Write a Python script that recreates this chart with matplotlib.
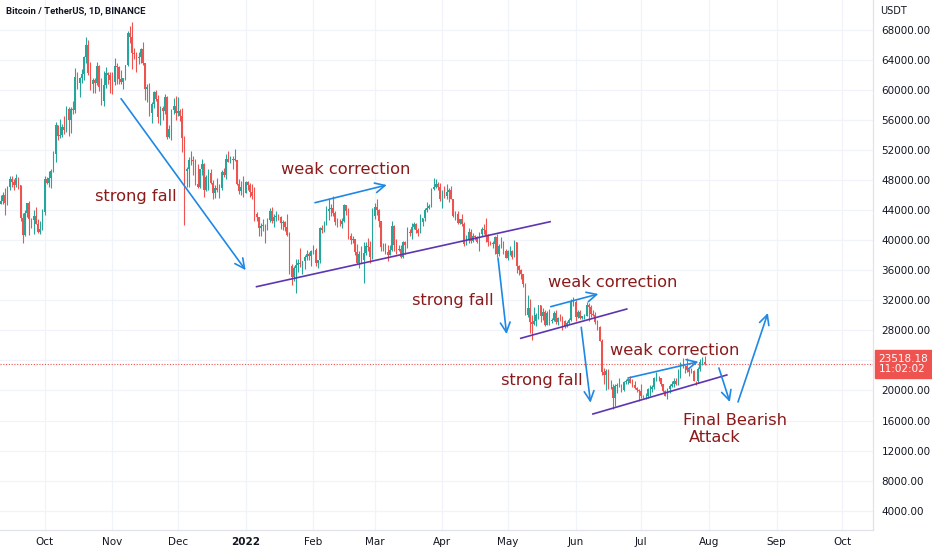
import numpy as np
import pandas as pd
import matplotlib
matplotlib.use('Agg')
import matplotlib.pyplot as plt
import matplotlib.dates as mdates

# BTC/USDT daily candles, 2021-09-10 .. 2022-07-30, values in k USDT
first_open = 46.40
closes = [
    # Sep
    44.85, 45.17, 46.03, 44.96, 47.11, 48.12, 47.74, 47.30, 48.31, 47.26, 42.99,
    40.69, 43.57, 44.90, 42.81, 42.69, 43.21, 42.17, 41.03, 41.52, 43.79,
    # Oct
    48.14, 47.63, 48.20, 49.22, 51.47, 55.32, 53.79, 53.95, 54.97, 54.66, 57.47,
    56.01, 57.37, 57.35, 61.67, 60.88, 61.53, 62.04, 64.28, 66.00, 62.19, 60.69,
    61.29, 60.86, 63.08, 60.33, 58.46, 60.59, 62.25, 61.89, 61.30,
    # Nov
    61.00, 63.20, 62.97, 61.45, 61.00, 61.53, 63.27, 67.53, 66.94, 64.88, 64.78,
    64.15, 64.38, 65.47, 63.56, 60.10, 60.36, 56.90, 58.10, 59.70, 58.70, 56.30,
    57.57, 57.15, 58.96, 53.73, 54.72, 57.27, 57.80, 56.95,
    # Dec
    57.20, 56.50, 53.60, 49.20, 49.40, 50.60, 50.60, 50.50, 47.50, 47.10, 49.40,
    50.10, 46.70, 48.40, 48.90, 47.60, 46.20, 46.90, 46.70, 46.90, 49.00, 48.60,
    50.80, 50.40, 50.80, 50.70, 50.70, 47.50, 46.50, 47.10, 46.20,
    # Jan
    47.70, 47.30, 46.40, 45.80, 43.40, 43.10, 41.60, 41.90, 42.00, 41.80, 42.70,
    43.90, 42.60, 43.10, 43.20, 43.10, 42.30, 42.40, 41.70, 40.70, 36.50, 35.10,
    36.30, 36.70, 36.90, 36.80, 37.20, 37.70, 38.20, 37.90, 38.50,
    # Feb
    38.70, 36.90, 37.30, 41.60, 41.40, 42.40, 43.80, 44.10, 44.30, 43.60, 42.40,
    42.20, 42.10, 42.60, 44.60, 43.90, 40.50, 40.00, 40.10, 38.40, 37.00, 38.20,
    37.30, 38.30, 39.20, 39.10, 37.70, 43.20,
    # Mar
    44.40, 44.00, 42.50, 39.10, 39.40, 38.40, 38.00, 38.70, 41.90, 39.40, 38.70,
    38.80, 37.80, 39.70, 39.30, 41.10, 40.90, 41.80, 42.20, 41.30, 41.00, 42.40,
    42.90, 44.00, 44.30, 44.50, 46.80, 47.10, 47.40, 47.10, 45.50,
    # Apr
    46.30, 45.80, 46.40, 46.60, 45.50, 43.20, 43.40, 42.30, 42.80, 42.20, 39.50,
    40.10, 41.10, 39.90, 40.60, 40.40, 39.70, 40.80, 41.50, 41.40, 40.50, 39.70,
    39.50, 39.50, 40.40, 38.10, 39.20, 39.70, 38.60, 37.60,
    # May
    38.50, 38.50, 37.70, 39.70, 36.60, 36.00, 35.50, 34.10, 30.10, 31.00, 29.10,
    28.90, 29.30, 30.10, 31.30, 29.90, 30.40, 28.70, 30.30, 29.20, 29.40, 30.30,
    29.10, 29.70, 29.50, 29.20, 28.60, 29.00, 29.40, 31.70, 31.80,
    # Jun
    29.80, 30.40, 29.70, 29.90, 29.90, 31.40, 31.10, 30.20, 30.10, 29.10, 28.40,
    26.60, 22.50, 22.10, 22.60, 20.40, 20.50, 19.00, 20.60, 20.60, 20.70, 20.00,
    21.10, 21.20, 21.50, 21.00, 20.70, 20.30, 20.10, 19.90,
    # Jul
    19.30, 19.20, 19.30, 20.20, 20.20, 20.50, 21.60, 21.60, 21.60, 20.80, 19.90,
    19.30, 20.20, 20.60, 20.80, 21.20, 20.80, 22.40, 23.40, 23.20, 23.20, 22.70,
    22.50, 22.60, 21.30, 21.20, 22.90, 23.80, 23.80, 23.52,
]
highs = [
    # Sep
    47.00, 45.97, 46.44, 46.88, 47.25, 48.47, 48.50, 48.16, 48.84, 48.37, 47.35,
    43.64, 44.00, 44.97, 45.20, 42.97, 43.94, 44.35, 42.79, 42.60, 44.13,
    # Oct
    48.50, 48.36, 49.23, 49.50, 51.90, 55.75, 55.30, 56.10, 55.48, 56.50, 57.80,
    57.70, 57.68, 58.53, 62.93, 62.30, 61.72, 62.70, 64.49, 67.00, 66.64, 63.70,
    61.49, 61.49, 63.70, 63.29, 61.50, 62.50, 62.96, 62.40, 62.40,
    # Nov
    62.40, 64.27, 63.50, 63.10, 62.60, 61.58, 63.29, 67.79, 68.50, 69.00, 65.60,
    65.00, 65.00, 65.50, 66.40, 63.50, 60.80, 60.90, 58.35, 59.86, 60.00, 59.27,
    57.87, 57.80, 59.40, 59.18, 55.30, 57.40, 58.90, 59.20,
    # Dec
    59.00, 57.40, 57.60, 53.90, 49.70, 51.00, 51.90, 51.20, 50.80, 50.10, 49.50,
    50.80, 50.20, 48.70, 49.50, 49.40, 48.00, 47.30, 48.30, 47.50, 49.30, 49.60,
    51.40, 51.80, 51.20, 51.20, 52.10, 50.70, 48.10, 47.90, 48.50,
    # Jan
    47.90, 47.90, 47.60, 47.50, 47.10, 43.70, 43.10, 42.30, 42.80, 42.20, 43.00,
    44.30, 44.40, 43.40, 43.80, 43.50, 43.20, 42.70, 42.60, 43.50, 41.10, 36.80,
    36.50, 37.50, 37.50, 38.90, 37.20, 38.00, 38.70, 38.40, 38.70,
    # Feb
    39.30, 38.90, 37.40, 41.70, 42.00, 42.60, 44.50, 45.50, 44.80, 45.80, 43.90,
    43.00, 42.80, 42.90, 44.80, 44.60, 44.20, 40.90, 40.50, 40.20, 39.50, 38.50,
    39.20, 39.80, 39.70, 40.30, 39.90, 44.20,
    # Mar
    44.90, 45.40, 44.10, 42.50, 39.60, 39.60, 39.40, 39.40, 42.60, 42.00, 40.10,
    39.40, 39.30, 39.90, 39.90, 41.70, 41.50, 42.30, 42.40, 42.30, 41.60, 43.40,
    43.00, 44.30, 45.10, 44.80, 46.90, 48.20, 48.10, 47.70, 47.60,
    # Apr
    46.70, 47.20, 47.40, 46.90, 47.20, 45.50, 43.90, 43.90, 42.80, 43.40, 42.40,
    40.70, 41.60, 41.50, 40.90, 40.70, 40.60, 41.10, 41.80, 42.20, 42.98, 40.80,
    39.90, 39.90, 40.60, 40.80, 39.50, 40.40, 39.90, 38.80,
    # May
    38.70, 39.20, 38.70, 40.00, 39.80, 36.70, 36.10, 35.50, 34.30, 32.70, 32.20,
    30.00, 31.10, 30.30, 31.40, 31.30, 31.00, 30.70, 30.50, 30.80, 29.60, 30.50,
    30.70, 29.80, 30.20, 29.90, 29.40, 29.20, 29.60, 32.20, 32.40,
    # Jun
    31.98, 30.70, 30.70, 29.90, 30.20, 31.80, 31.60, 31.30, 30.70, 30.40, 29.40,
    28.60, 26.90, 23.00, 22.80, 22.90, 21.40, 20.80, 20.80, 21.00, 21.70, 20.90,
    21.20, 21.50, 21.60, 21.90, 21.50, 21.20, 20.40, 20.20,
    # Jul
    20.90, 19.40, 19.70, 20.35, 20.70, 20.70, 21.80, 22.50, 21.95, 21.60, 20.90,
    20.05, 20.30, 20.90, 21.20, 21.60, 21.70, 22.80, 23.80, 24.30, 23.40, 24.30,
    23.00, 23.00, 22.70, 21.30, 23.10, 24.20, 24.40, 24.60,
]
lows = [
    # Sep
    44.20, 44.75, 44.74, 43.37, 44.68, 46.70, 47.00, 46.70, 47.05, 46.84, 42.50,
    39.60, 40.60, 43.10, 40.70, 41.65, 40.80, 42.10, 40.90, 40.75, 41.40,
    # Oct
    43.30, 47.43, 47.10, 46.90, 49.00, 50.40, 53.36, 53.60, 53.66, 54.10, 54.40,
    53.88, 54.20, 56.80, 56.85, 60.10, 58.96, 60.90, 61.30, 63.50, 62.00, 60.00,
    59.60, 59.50, 60.65, 59.80, 58.00, 57.80, 60.17, 60.70, 59.50,
    # Nov
    59.40, 60.60, 60.70, 60.70, 60.70, 60.10, 61.30, 63.10, 66.20, 62.80, 64.10,
    62.30, 63.40, 63.60, 63.30, 58.60, 58.40, 56.50, 55.60, 57.50, 58.50, 55.60,
    55.30, 55.90, 56.70, 53.50, 53.60, 53.30, 56.70, 55.90,
    # Dec
    56.50, 55.80, 51.70, 42.00, 47.10, 47.00, 50.00, 48.60, 47.30, 46.90, 46.90,
    48.70, 45.70, 46.50, 46.60, 47.50, 45.50, 45.60, 46.40, 45.60, 46.60, 48.40,
    48.10, 50.40, 50.20, 49.40, 50.50, 47.30, 46.10, 46.00, 45.70,
    # Jan
    46.20, 46.60, 45.70, 45.50, 42.50, 42.50, 40.60, 40.50, 41.20, 39.65, 41.30,
    42.40, 42.30, 41.70, 42.60, 42.70, 41.50, 41.30, 41.20, 40.60, 35.50, 34.00,
    34.60, 33.00, 35.70, 36.40, 35.50, 36.20, 37.30, 37.40, 36.60,
    # Feb
    38.10, 36.60, 36.30, 37.00, 40.90, 41.10, 42.00, 42.70, 43.20, 43.20, 42.00,
    41.70, 41.90, 41.60, 42.40, 43.30, 40.10, 39.45, 39.60, 38.00, 36.80, 36.35,
    37.00, 34.30, 38.00, 38.60, 37.00, 37.50,
    # Mar
    42.80, 43.30, 41.80, 38.60, 38.60, 38.10, 37.20, 38.00, 38.60, 38.50, 38.20,
    38.60, 37.60, 37.60, 38.10, 38.90, 40.50, 40.10, 41.50, 40.90, 40.50, 40.90,
    41.90, 42.60, 43.70, 44.10, 44.40, 46.70, 46.90, 46.60, 45.20,
    # Apr
    44.20, 45.60, 45.50, 45.10, 45.40, 43.10, 42.70, 42.10, 42.10, 41.90, 39.20,
    39.30, 39.60, 39.60, 39.80, 40.00, 39.60, 38.50, 40.60, 40.80, 39.70, 39.20,
    39.30, 38.90, 38.20, 37.70, 37.90, 38.90, 38.20, 37.60,
    # May
    37.40, 38.00, 37.50, 37.70, 35.60, 35.30, 34.80, 33.70, 30.00, 29.80, 27.70,
    26.70, 28.70, 28.60, 29.50, 29.10, 29.40, 28.60, 28.70, 28.70, 29.00, 29.20,
    28.90, 28.70, 29.30, 28.00, 28.30, 28.50, 28.80, 29.30, 31.20,
    # Jun
    29.30, 29.60, 29.50, 29.50, 29.50, 29.90, 29.20, 29.80, 29.90, 28.85, 28.10,
    26.60, 22.00, 20.80, 20.10, 20.20, 20.20, 17.60, 17.90, 19.60, 20.40, 19.80,
    19.90, 20.80, 20.90, 21.00, 20.50, 20.20, 19.85, 18.60,
    # Jul
    18.95, 19.00, 18.80, 19.05, 19.30, 19.80, 20.20, 21.20, 21.30, 20.65, 19.85,
    19.20, 18.90, 19.60, 20.40, 20.50, 20.75, 20.75, 21.60, 23.00, 22.30, 22.50,
    21.90, 22.30, 21.25, 20.70, 21.00, 22.60, 23.40, 23.45,
]
last_price = 23518.18
last_time = '11:02:02'

# chart drawings: (start, end) as (date, price)
blue_arrows = [
    (('2021-11-05', 58800), ('2022-01-01', 36000)),
    (('2022-02-01 18:00', 44970), ('2022-03-06 14:00', 47320)),
    (('2022-04-26 12:00', 37600), ('2022-04-30 10:00', 27500)),
    (('2022-05-20 14:00', 31140), ('2022-06-11 10:00', 32830)),
    (('2022-06-03 14:00', 28400), ('2022-06-07 20:00', 18370)),
    (('2022-06-25', 21660), ('2022-07-27 05:00', 23820)),
    (('2022-08-05 14:00', 22990), ('2022-08-10 14:00', 18470)),
    (('2022-08-14 08:00', 18470), ('2022-08-28', 30300)),
]
purple_lines = [
    (('2022-01-06', 33800), ('2022-05-20 08:00', 42440)),
    (('2022-05-06 22:00', 26940), ('2022-06-24 10:00', 30830)),
    (('2022-06-08 22:00', 16870), ('2022-08-09 05:00', 22060)),
]
notes = [
    ('strong fall', '2021-10-24', 45730),
    ('weak correction', '2022-01-17 08:00', 49320),
    ('strong fall', '2022-03-18 08:00', 31900),
    ('weak correction', '2022-05-19 10:00', 34290),
    ('strong fall', '2022-04-27 22:00', 21390),
    ('weak correction', '2022-06-16 16:00', 25380),
    ('Final Bearish', '2022-07-20 05:00', 16070),
    ('Attack', '2022-07-22 22:00', 13810),
]
month_ticks = ['2021-10-01', '2021-11-01', '2021-12-01', '2022-01-01', '2022-02-01',
               '2022-03-01', '2022-04-01', '2022-05-01', '2022-06-01', '2022-07-01',
               '2022-08-01', '2022-09-01', '2022-10-01']
month_labels = ['Oct', 'Nov', 'Dec', '2022', 'Feb', 'Mar', 'Apr', 'May', 'Jun', 'Jul',
                'Aug', 'Sep', 'Oct']
price_ticks = np.arange(4000, 68001, 4000)

UP = '#26a69a'
DOWN = '#ef5350'
TXT = '#131722'
GRID = '#f0f3fa'

dates = pd.date_range('2021-09-10', periods=len(closes), freq='D')
x = mdates.date2num(dates)
c = np.array(closes) * 1000
o = np.array([first_open] + closes[:-1]) * 1000
h = np.array(highs) * 1000
l = np.array(lows) * 1000
cols = np.where(c >= o, UP, DOWN)


def dn(s):
    return mdates.date2num(pd.Timestamp(s))


fig = plt.figure(figsize=(9.32, 5.5), dpi=100)
ax = fig.add_axes([0, 20 / 550, 873 / 932, 530 / 550])

ax.vlines(x, l, h, colors=cols, lw=0.8, zorder=3)
ax.bar(x, np.maximum(np.abs(c - o), 60), bottom=np.minimum(o, c), width=0.72,
       color=cols, linewidth=0, zorder=4)

oct1 = dn('2021-10-01')
ax.set_xlim(oct1 - 20.4, oct1 + 379.1)
ax.set_ylim(1444, 71923)

ax.set_xticks([dn(m) for m in month_ticks])
ax.set_xticklabels(month_labels)
for t in ax.get_xticklabels():
    if t.get_text() == '2022':
        t.set_fontweight('bold')
# the 24000 label sits under the last-price tag
ax.set_yticks(price_ticks)
ax.set_yticklabels(['' if abs(p - last_price) < 2500 else '%.2f' % p
                    for p in price_ticks])
ax.yaxis.tick_right()
ax.tick_params(axis='both', length=0, labelsize=7.5, colors=TXT)
ax.tick_params(axis='x', pad=5)
ax.tick_params(axis='y', pad=6)
ax.grid(True, color=GRID, lw=0.9, zorder=0)
ax.set_axisbelow(True)
for side in ['left', 'top']:
    ax.spines[side].set_visible(False)
for side in ['right', 'bottom']:
    ax.spines[side].set_color('#e0e3eb')
    ax.spines[side].set_linewidth(0.9)

# drawings
for (d0, p0), (d1, p1) in purple_lines:
    ax.plot([dn(d0), dn(d1)], [p0, p1], color='#5e35b1', lw=1.2, zorder=6)
for (d0, p0), (d1, p1) in blue_arrows:
    ax.annotate('', xy=(dn(d1), p1), xytext=(dn(d0), p0),
                arrowprops=dict(arrowstyle='->,head_length=0.7,head_width=0.35',
                                color='#1e88e5', lw=1.2, shrinkA=0, shrinkB=0),
                zorder=6)
for txt, d, p in notes:
    ax.text(dn(d), p, txt, color='#8b1a1a', fontsize=11.7, ha='left', va='center',
            zorder=7)

# last price line and label
ax.axhline(last_price, color=DOWN, lw=0.8, ls=(0, (1, 1.5)), zorder=2)
ax.annotate('%.2f\n%s' % (last_price, last_time), xy=(1.0, last_price),
            xycoords=('axes fraction', 'data'), xytext=(4, 0),
            textcoords='offset points', ha='left', va='center', fontsize=7.5,
            color='white', linespacing=1.1, annotation_clip=False,
            bbox=dict(boxstyle='square,pad=0.35', fc=DOWN, ec=DOWN), zorder=10)

fig.text(6 / 932, 1 - 11 / 550, 'Bitcoin / TetherUS, 1D, BINANCE', fontsize=6.8,
         fontweight='bold', family='Roboto', color=TXT, va='center')
fig.text(880 / 932, 1 - 11 / 550, 'USDT', fontsize=7, color=TXT, va='center')

fig.savefig('out.png', dpi=100)
